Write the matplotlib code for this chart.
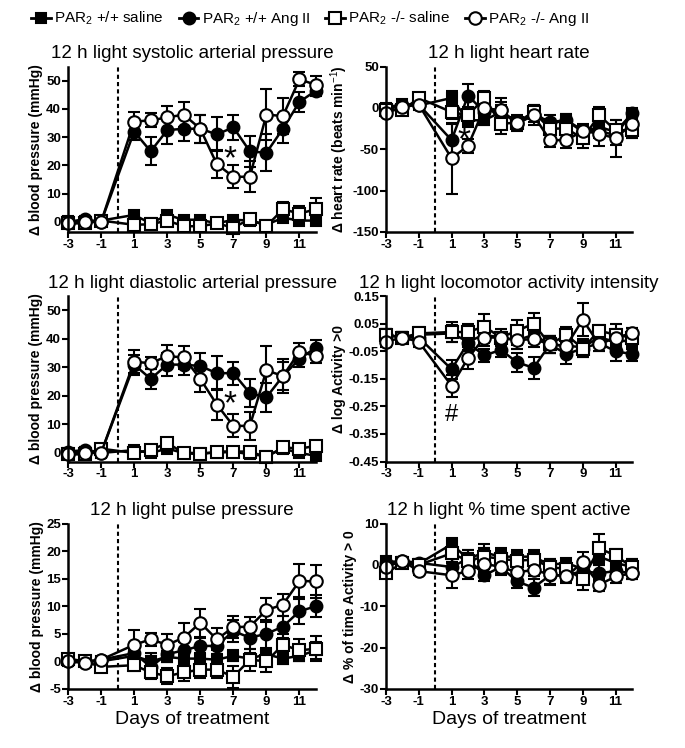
import numpy as np
import matplotlib
matplotlib.use('Agg')
import matplotlib.pyplot as plt
from matplotlib.lines import Line2D

plt.rcParams['font.family'] = ['Liberation Sans', 'DejaVu Sans']
plt.rcParams['mathtext.fontset'] = 'custom'
plt.rcParams['mathtext.rm'] = 'Liberation Sans'
plt.rcParams['mathtext.it'] = 'Liberation Sans'
plt.rcParams['mathtext.bf'] = 'Liberation Sans:bold'
plt.rcParams['axes.unicode_minus'] = False

days = [-3, -2, -1, 1, 2, 3, 4, 5, 6, 7, 8, 9, 10, 11, 12]
groups = ['PAR$_2$ +/+ saline', 'PAR$_2$ +/+ Ang II', 'PAR$_2$ -/- saline', 'PAR$_2$ -/- Ang II']

# systolic
sys_wt_sal = [0.5, 0, 0.5, 2.5, -0.5, 2.5, 0.8, 0.8, -0.5, 0.8, 0.5, -1, 1.5, 0.5, 0.5]
sys_wt_sal_err = [1, 1, 1, 1, 1, 1, 1, 1, 1, 1, 1, 1, 1.5, 1.5, 1.5]
sys_ko_sal = [-0.5, -0.5, 0.5, -1, -0.8, 0.5, -1.5, -1.5, -0.5, -2, 1, -1.5, 4.5, 3, 4.5]
sys_ko_sal_err = [1, 1, 1, 1, 1, 1.5, 1.5, 1.5, 1, 1.5, 1, 1, 2.5, 2.5, 4]
sys_wt_ang = [0, 1, 0, 32, 25, 32.5, 33, 33, 31, 33.5, 25, 24.5, 33, 42.5, 46.5]
sys_wt_ang_err = [1, 1, 1, 3, 5, 5, 4.5, 5, 6, 4.5, 5.5, 6.5, 5, 3.5, 2]
sys_ko_ang = [-0.5, 0, 0, 35.5, 36, 37, 38, 33, 20.5, 16, 16, 38, 37.5, 50.5, 48.5]
sys_ko_ang_err = [1, 1, 1, 3.5, 2.5, 4, 4.5, 5, 5, 4, 5.5, 9, 6.5, 2.5, 3]

# heart rate
hr_wt_sal = [0, 5, 3, 12, -15, -15, -5, -18, -5, -19, -15, -29, -23, -29, -7]
hr_wt_sal_err = [3, 4, 4, 8, 8, 6, 8, 5, 8, 6, 8, 6, 8, 8, 6]
hr_ko_sal = [-2, -3, 12, -5, -9, 12, -19, -18, -5, -25, -25, -37, -9, -27, -27]
hr_ko_sal_err = [4, 4, 4, 8, 6, 8, 12, 10, 6, 8, 6, 12, 10, 12, 10]
hr_wt_ang = [-2, 3, 4, -39, 15, -5, -3, -19, -9, -17, -15, -27, -28, -33, -6]
hr_wt_ang_err = [3, 3, 3, 20, 14, 8, 10, 6, 12, 8, 8, 6, 8, 12, 6]
hr_ko_ang = [-6, 1, 4, -61, -46, 0, -3, -18, -9, -39, -39, -28, -31, -37, -19]
hr_ko_ang_err = [3, 3, 3, 43, 8, 8, 15, 8, 8, 8, 10, 8, 15, 22, 18]

# diastolic
dia_wt_sal = [0, 0.5, 0, 1, 0, 1.5, 0, 0, 0, 0.5, -0.5, -1, 1.5, 0, -1]
dia_wt_sal_err = [1, 1, 1, 1, 1, 1, 1, 1, 1, 1, 1, 1, 1, 1, 1]
dia_ko_sal = [-0.5, -0.5, 1.5, 0, 1, 3.5, 0, -0.5, 0.5, 0.5, 0.5, -1.5, 2, 1.5, 2.5]
dia_ko_sal_err = [1, 1, 1, 1, 1, 1.5, 1, 1, 1, 1, 1, 1, 1.5, 1.5, 1.5]
dia_wt_ang = [0.5, 1, 0, 31, 26, 31, 31, 30.5, 28, 28, 21, 19.5, 27, 33, 37]
dia_wt_ang_err = [1, 1, 1, 3.5, 3.5, 4, 3.5, 4.5, 6, 4, 5, 5, 5, 3, 2.5]
dia_ko_ang = [-0.5, 0, 0, 32, 31.5, 34, 33.5, 26, 17, 9.5, 9.5, 29, 27, 35.5, 34]
dia_ko_ang_err = [1, 1, 1, 4, 2, 4, 4, 4.5, 5.5, 4, 5, 8.5, 6, 3, 2.5]

# locomotor activity intensity
act_wt_sal = [0.01, 0, 0.01, 0.015, -0.015, 0.01, 0, -0.01, 0.01, -0.025, -0.03, -0.035, 0, -0.015, -0.01]
act_wt_sal_err = [0.02, 0.02, 0.02, 0.03, 0.03, 0.03, 0.02, 0.03, 0.03, 0.03, 0.03, 0.03, 0.02, 0.03, 0.03]
act_ko_sal = [0.01, 0, 0.015, 0.02, 0.02, 0.04, 0, 0.025, 0.05, -0.025, 0.01, -0.04, 0.025, 0.01, 0]
act_ko_sal_err = [0.02, 0.02, 0.025, 0.035, 0.03, 0.045, 0.03, 0.04, 0.04, 0.03, 0.03, 0.03, 0.02, 0.04, 0.035]
act_wt_ang = [0.01, 0, 0, -0.115, -0.02, -0.065, -0.045, -0.09, -0.11, -0.025, -0.06, -0.04, -0.02, -0.05, -0.06]
act_wt_ang_err = [0.02, 0.02, 0.02, 0.035, 0.03, 0.025, 0.025, 0.035, 0.04, 0.03, 0.035, 0.03, 0.03, 0.035, 0.025]
act_ko_ang = [-0.015, 0, -0.015, -0.175, -0.075, 0, 0, -0.01, -0.005, -0.025, -0.03, 0.065, -0.025, 0, 0.015]
act_ko_ang_err = [0.02, 0.02, 0.02, 0.04, 0.04, 0.03, 0.02, 0.03, 0.03, 0.03, 0.03, 0.06, 0.025, 0.03, 0.02]

# pulse pressure
pp_wt_sal = [0, 0, 0, 1, 0, 0.8, 0.5, 0.5, 0.3, 1, 0.5, 1.3, 0.5, 1, 2]
pp_wt_sal_err = [0.5, 0.5, 0.5, 1, 1.5, 1, 1, 1, 1, 1, 1, 1, 1, 1, 1.5]
pp_ko_sal = [0.5, 0, -1, -0.7, -2, -2.7, -2, -1.5, -1.5, -2.8, 0.3, 0, 3, 2, 2.3]
pp_ko_sal_err = [0.5, 0.5, 0.5, 1, 1.2, 1.5, 1.5, 1.5, 1.5, 2, 2, 2, 2, 2, 2.3]
pp_wt_ang = [0, 0, 0.3, 1.5, -1, 1.3, 2, 2.8, 2.8, 5.5, 4.3, 5, 6.3, 9.1, 10]
pp_wt_ang_err = [0.5, 0.5, 0.5, 1.5, 2, 1.5, 1.5, 1.5, 1.5, 2, 2, 2.5, 2, 2.3, 2]
pp_ko_ang = [0, -0.3, 0.3, 3, 4, 3, 4.3, 7, 4, 6.2, 6.3, 9.3, 10.3, 14.6, 14.5]
pp_ko_ang_err = [0.5, 0.5, 0.5, 2.7, 1.2, 2, 2.7, 2.5, 2, 2, 1.8, 2.2, 2, 3, 3]

# % time spent active
pt_wt_sal = [1, 0.5, 0.3, 5, 1.5, 3, 2, 2, 2, 0, 0.5, -1, 2, 0.5, -0.5]
pt_wt_sal_err = [1, 1, 1, 1.5, 2, 2, 2, 1.5, 1.5, 1.5, 1, 1.5, 2, 1.5, 2]
pt_ko_sal = [-2, 0.5, 0, 2.8, 1, 2, 1.5, 1, 1.3, -0.5, -1, -3.5, 4, 2.3, -0.5]
pt_ko_sal_err = [1, 1, 1, 2, 2, 2, 2, 1.5, 2, 2, 1.5, 2.5, 3.5, 1.5, 2]
pt_wt_ang = [0.5, 1, 0.5, -0.5, 1.5, -2.5, -0.5, -4, -5.5, -2.5, -2.5, -1.5, -2, -1.5, -2]
pt_wt_ang_err = [1, 1, 1, 2, 2, 1.5, 1.5, 1.5, 2, 2, 1.5, 1.5, 2, 1.5, 1.5]
pt_ko_ang = [-0.5, 1, -1.5, -2.5, -1.5, 0.3, -0.5, -1.8, -1.2, -2.3, -2.8, 0.7, -4.8, -2.8, -2]
pt_ko_ang_err = [1, 1, 1, 3, 2, 2, 2, 1.5, 1.5, 2.5, 1.5, 2.5, 1.5, 1.5, 1.5]

styles = [('s', 'black', 7.5), ('o', 'black', 8.5), ('s', 'white', 8), ('o', 'white', 9)]


def draw_panel(ax, series, title, ylabel, ylim, yticks, yticklabels):
    for (y, e), (mk, fc, ms) in zip(series, styles):
        ax.errorbar(days, y, yerr=e, color='black', lw=1.8, marker=mk, ms=ms,
                    mfc=fc, mec='black', mew=1.5, elinewidth=1.5, capsize=4,
                    capthick=1.5, clip_on=False)
    ax.axvline(0, color='black', ls=(0, (2, 1.5)), lw=1.5)
    ax.set_xlim(-3, 12)
    ax.set_ylim(*ylim)
    ax.set_xticks([-3, -1, 1, 3, 5, 7, 9, 11])
    ax.set_yticks(yticks)
    ax.set_yticklabels(yticklabels)
    ax.spines['top'].set_visible(False)
    ax.spines['right'].set_visible(False)
    ax.spines['left'].set_linewidth(1.8)
    ax.spines['bottom'].set_linewidth(1.8)
    ax.tick_params(width=1.5, length=4, labelsize=9.5, pad=1)
    for lab in ax.get_xticklabels() + ax.get_yticklabels():
        lab.set_fontweight('bold')
    ax.set_title(title, fontsize=13.5, pad=6)
    ax.set_ylabel(ylabel, fontsize=10, fontweight='bold', labelpad=2)


fig = plt.figure(figsize=(6.85, 7.48), dpi=100)
h = 0.221
lefts = [0.0993, 0.5635]
w = [0.362, 0.359]
bottoms = [0.690, 0.383, 0.079]

ax = fig.add_axes([lefts[0], bottoms[0], w[0], h])
draw_panel(ax, [(sys_wt_sal, sys_wt_sal_err), (sys_wt_ang, sys_wt_ang_err),
                (sys_ko_sal, sys_ko_sal_err), (sys_ko_ang, sys_ko_ang_err)],
           '12 h light systolic arterial pressure', '\u0394 blood pressure (mmHg)',
           (-3.5, 55), [0, 10, 20, 30, 40, 50], ['0', '10', '20', '30', '40', '50'])
ax.text(6.8, 22, '*', fontsize=24, ha='center', va='center')

ax = fig.add_axes([lefts[1], bottoms[0], w[1], h])
draw_panel(ax, [(hr_wt_sal, hr_wt_sal_err), (hr_wt_ang, hr_wt_ang_err),
                (hr_ko_sal, hr_ko_sal_err), (hr_ko_ang, hr_ko_ang_err)],
           '12 h light heart rate', '\u0394 heart rate (beats min$^{-1}$)',
           (-150, 50), [50, 0, -50, -100, -150], ['50', '0', '-50', '-100', '-150'])
ax.text(1.75, -40, '*', fontsize=24, ha='center', va='center')

ax = fig.add_axes([lefts[0], bottoms[1], w[0], h])
draw_panel(ax, [(dia_wt_sal, dia_wt_sal_err), (dia_wt_ang, dia_wt_ang_err),
                (dia_ko_sal, dia_ko_sal_err), (dia_ko_ang, dia_ko_ang_err)],
           '12 h light diastolic arterial pressure', '\u0394 blood pressure (mmHg)',
           (-3, 55), [0, 10, 20, 30, 40, 50], ['0', '10', '20', '30', '40', '50'])
ax.text(6.8, 17, '*', fontsize=24, ha='center', va='center')

ax = fig.add_axes([lefts[1], bottoms[1], w[1], h])
draw_panel(ax, [(act_wt_sal, act_wt_sal_err), (act_wt_ang, act_wt_ang_err),
                (act_ko_sal, act_ko_sal_err), (act_ko_ang, act_ko_ang_err)],
           '12 h light locomotor activity intensity', '\u0394 log Activity >0',
           (-0.45, 0.15), [0.15, 0.05, -0.05, -0.15, -0.25, -0.35, -0.45],
           ['0.15', '0.05', '-0.05', '-0.15', '-0.25', '-0.35', '-0.45'])
ax.text(1, -0.28, '#', fontsize=17, ha='center', va='center')

ax = fig.add_axes([lefts[0], bottoms[2], w[0], h])
draw_panel(ax, [(pp_wt_sal, pp_wt_sal_err), (pp_wt_ang, pp_wt_ang_err),
                (pp_ko_sal, pp_ko_sal_err), (pp_ko_ang, pp_ko_ang_err)],
           '12 h light pulse pressure', '\u0394 blood pressure (mmHg)',
           (-5, 25), [25, 20, 15, 10, 5, 0, -5], ['25', '20', '15', '10', '5', '0', '-5'])
ax.set_xlabel('Days of treatment', fontsize=14, labelpad=2)

ax = fig.add_axes([lefts[1], bottoms[2], w[1], h])
draw_panel(ax, [(pt_wt_sal, pt_wt_sal_err), (pt_wt_ang, pt_wt_ang_err),
                (pt_ko_sal, pt_ko_sal_err), (pt_ko_ang, pt_ko_ang_err)],
           '12 h light % time spent active', '\u0394 % of time Activity > 0',
           (-30, 10), [10, 0, -10, -20, -30], ['10', '0', '-10', '-20', '-30'])
ax.set_xlabel('Days of treatment', fontsize=14, labelpad=2)

handles = [Line2D([0], [0], color='black', lw=2, marker=mk, ms=ms, mfc=fc,
                  mec='black', mew=1.5) for mk, fc, ms in styles]
fig.legend(handles, groups, loc='upper left', bbox_to_anchor=(0.025, 1.005), ncol=4,
           frameon=False, fontsize=11, handlelength=1.3, handletextpad=0.2,
           columnspacing=1.0)

fig.savefig('out.png', dpi=100)
